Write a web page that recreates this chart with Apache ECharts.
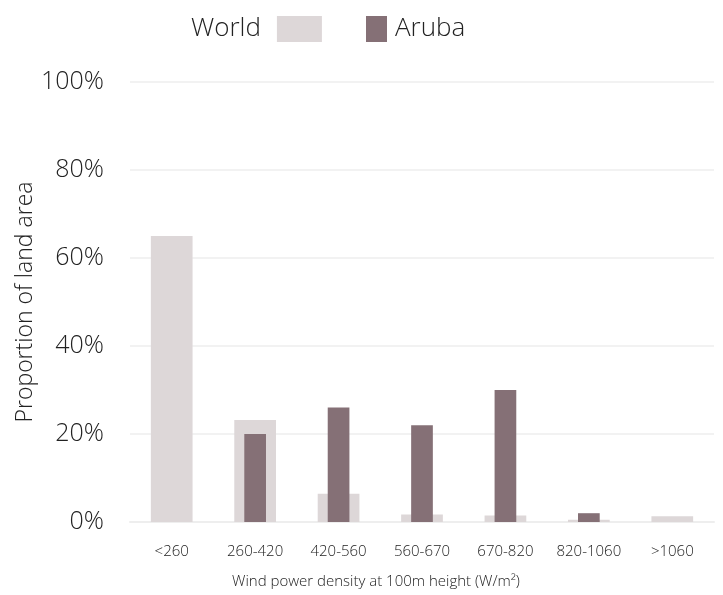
<!DOCTYPE html>
<html><head><meta charset="utf-8">
<script src="https://cdn.jsdelivr.net/npm/echarts@6/dist/echarts.min.js"></script>
<style>html,body{margin:0;padding:0;background:#fff}#c{width:723px;height:595px}</style>
</head><body><div id="c"></div>
<script>
const categories = ['<260','260-420','420-560','560-670','670-820','820-1060','>1060'];
const worldValues = [65, 23.2, 6.4, 1.7, 1.5, 0.5, 1.3];
const arubaValues = [0, 20, 26, 22, 30, 2, 0];
const yTicks = [0, 20, 40, 60, 80, 100];

const font = 'Open Sans';
const fw = 300;
const chart = echarts.init(document.getElementById('c'));
chart.setOption({
  animation: false,
  textStyle: {fontFamily: font, fontWeight: fw, color: '#222'},
  legend: [
    {data: ['World'], left: 186, top: 11, align: 'right', itemWidth: 45, itemHeight: 26, itemGap: 0, icon: 'rect',
     textStyle: {fontSize: 26, fontFamily: font, fontWeight: fw, color: '#222', padding: [0, 11, 0, 0]}},
    {data: ['Aruba'], left: 361, top: 11, align: 'left', itemWidth: 21, itemHeight: 26, itemGap: 0, icon: 'rect',
     textStyle: {fontSize: 26, fontFamily: font, fontWeight: fw, color: '#222', padding: [0, 0, 0, 3]}}
  ],
  grid: {left: 130, right: 9, top: 82, bottom: 73, containLabel: false},
  xAxis: [
    {type: 'category', data: categories, position: 'bottom',
     axisLine: {lineStyle: {color: '#eeeeee', width: 2}}, axisTick: {show: false},
     axisLabel: {interval: 0, hideOverlap: false, fontSize: 15, color: '#222', margin: 22, fontFamily: font, fontWeight: fw},
     name: 'Wind power density at 100m height (W/m²)', nameLocation: 'middle', nameGap: 52,
     nameTextStyle: {fontSize: 15, color: '#222', fontFamily: font, fontWeight: fw, padding: [0, 92, 0, 0]}},
    {type: 'category', data: categories, show: false}
  ],
  yAxis: {
    type: 'value', min: 0, max: 100, interval: 20,
    axisLabel: {fontSize: 25, color: '#222', margin: 26, fontFamily: font, fontWeight: fw,
      formatter: v => yTicks.includes(v) ? v + '%' : ''},
    splitLine: {lineStyle: {color: '#eeeeee', width: 1.5}},
    axisLine: {show: false}, axisTick: {show: false},
    name: 'Proportion of land area', nameLocation: 'middle', nameGap: 93, nameMoveOverlap: false,
    nameTextStyle: {fontSize: 23, color: '#222', fontFamily: font, fontWeight: fw}
  },
  series: [
    {name: 'World', type: 'bar', xAxisIndex: 0, data: worldValues, barWidth: '50%',
     itemStyle: {color: '#ddd7d8'}},
    {name: 'Aruba', type: 'bar', xAxisIndex: 1, data: arubaValues, barWidth: '26%',
     itemStyle: {color: '#857076'}}
  ]
});
</script></body></html>
